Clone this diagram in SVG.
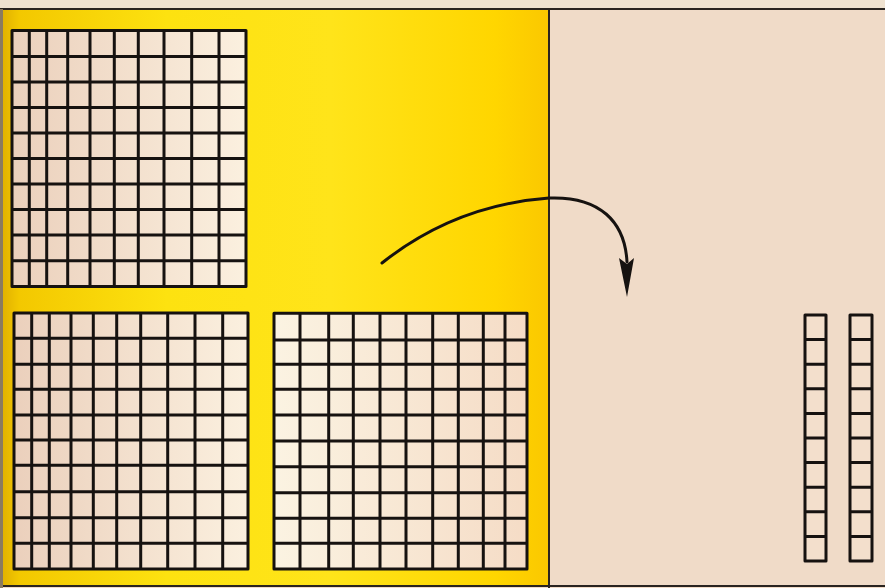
<svg xmlns="http://www.w3.org/2000/svg" width="885" height="588" viewBox="0 0 885 588">
<defs>
<linearGradient id="yel" x1="0" y1="0" x2="1" y2="0">
<stop offset="0" stop-color="#e2b200"/>
<stop offset="0.03" stop-color="#f3c800"/>
<stop offset="0.3" stop-color="#fde210"/>
<stop offset="0.6" stop-color="#ffe41a"/>
<stop offset="0.9" stop-color="#ffd600"/>
<stop offset="1" stop-color="#fbc800"/>
</linearGradient>
<linearGradient id="cellA" x1="0" y1="0" x2="1" y2="0">
<stop offset="0" stop-color="#ebd0bc"/>
<stop offset="1" stop-color="#fbf0df"/>
</linearGradient>
<linearGradient id="cellB" x1="0" y1="0" x2="1" y2="0">
<stop offset="0" stop-color="#fbf3e2"/>
<stop offset="1" stop-color="#f5dcc6"/>
</linearGradient>
</defs>
<style>
.g{fill:none;stroke:#161210;stroke-width:3;stroke-linejoin:round}
.frame{fill:none;stroke:#2a2420;stroke-width:2}
</style>
<rect x="0" y="0" width="885" height="588" fill="#f0dbc8"/>
<rect x="0" y="0" width="885" height="9" fill="#efe2d0"/>
<rect x="3" y="9" width="546" height="577" fill="url(#yel)"/>
<path class="frame" d="M0,9H885M549,9V588M0,586H885"/>
<rect x="0" y="9" width="3" height="579" fill="#8a7a60"/>

<g id="grid1">
<rect x="12" y="30.5" width="234" height="256" fill="url(#cellA)"/>
<path class="g" d="M12,30.5H246V286.5H12Z M29.3,30.5V286.5M46.7,30.5V286.5M67.7,30.5V286.5M90,30.5V286.5M114.3,30.5V286.5M138.3,30.5V286.5M164,30.5V286.5M191.7,30.5V286.5M219,30.5V286.5 M12,56.5H246M12,82H246M12,107.5H246M12,133H246M12,158.5H246M12,184H246M12,209.5H246M12,235H246M12,260.7H246"/>
</g>

<g id="grid2">
<rect x="14" y="313" width="234" height="256" fill="url(#cellA)"/>
<path class="g" d="M14,313H248V569H14Z M31.7,313V569M49.3,313V569M71,313V569M93.3,313V569M116.7,313V569M140.7,313V569M167.7,313V569M195,313V569M222.7,313V569 M14,338.3H248M14,364.3H248M14,389.3H248M14,415H248M14,440H248M14,465.3H248M14,491.7H248M14,517.7H248M14,543.3H248"/>
</g>

<g id="grid3">
<rect x="274" y="313.3" width="253" height="255.7" fill="url(#cellB)"/>
<path class="g" d="M274,313.3H527V569H274Z M300,313.3V569M328.7,313.3V569M353.3,313.3V569M380,313.3V569M406,313.3V569M432.7,313.3V569M458.3,313.3V569M483.3,313.3V569M505,313.3V569 M274,340H527M274,364.3H527M274,389.3H527M274,415H527M274,441H527M274,466.7H527M274,492.7H527M274,518.3H527M274,543.3H527"/>
</g>

<g id="col1">
<rect x="805" y="315" width="21" height="246" fill="#f3dfcc"/>
<path class="g" d="M805,315H826V561H805Z M805,339.6H826M805,364.2H826M805,388.8H826M805,413.4H826M805,438H826M805,462.6H826M805,487.2H826M805,511.8H826M805,536.4H826"/>
</g>

<g id="col2">
<rect x="850" y="315" width="22" height="246" fill="#f3dfcc"/>
<path class="g" d="M850,315H872V561H850Z M850,339.6H872M850,364.2H872M850,388.8H872M850,413.4H872M850,438H872M850,462.6H872M850,487.2H872M850,511.8H872M850,536.4H872"/>
</g>

<g id="connectors">
<path d="M382,263 Q455,205 549,198 C600,196 625,222 627,262" fill="none" stroke="#161210" stroke-width="3" stroke-linecap="round"/>
<polygon points="619,258 627,264 634,258 627,297" fill="#161210"/>
</g>
</svg>
